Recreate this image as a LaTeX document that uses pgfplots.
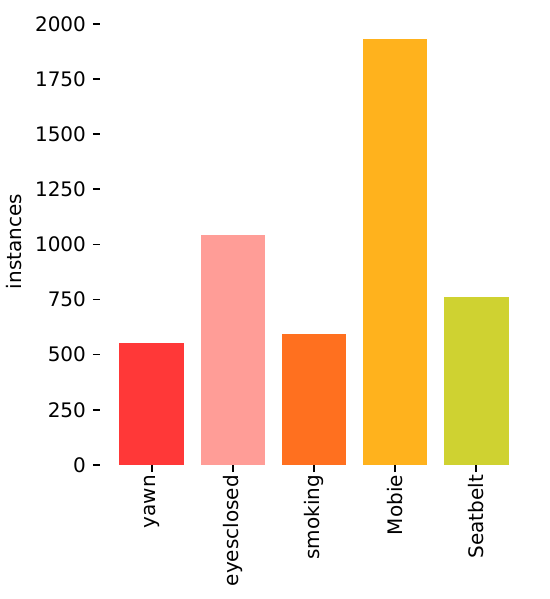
\documentclass[border=0pt]{standalone}
\usepackage{fontspec}
\setmainfont{DejaVu Sans}
\usepackage{pgfplots}
\pgfplotsset{compat=1.18}
% Ultralytics palette
\definecolor{c0}{HTML}{FF3838}
\definecolor{c1}{HTML}{FF9D97}
\definecolor{c2}{HTML}{FF701F}
\definecolor{c3}{HTML}{FFB21D}
\definecolor{c4}{HTML}{CFD231}
\begin{document}
\begin{tikzpicture}
\begin{axis}[
  width=214pt, height=223.5pt, scale only axis,
  font=\fontsize{10}{12}\selectfont,
  xmin=-0.64, xmax=4.64, ymin=0, ymax=2026,
  ybar, bar width=0.8,
  xtick={0,1,2,3,4},
  xticklabels={yawn,eyesclosed,smoking,Mobie,Seatbelt},
  x tick label style={rotate=90, anchor=east},
  xticklabel shift=-2pt,
  ytick={0,250,...,2000},
  axis line style={draw=none},
  tick align=outside, major tick length=3.5pt,
  tick style={black, line width=0.8pt},
  xtick pos=bottom, ytick pos=left,
  ylabel={instances},
  /pgf/number format/assume math mode=true,
  /pgf/number format/1000 sep={},
]
\addplot[fill=c0, draw=none, bar shift=0pt] coordinates {(0,551)};
\addplot[fill=c1, draw=none, bar shift=0pt] coordinates {(1,1042)};
\addplot[fill=c2, draw=none, bar shift=0pt] coordinates {(2,592)};
\addplot[fill=c3, draw=none, bar shift=0pt] coordinates {(3,1929)};
\addplot[fill=c4, draw=none, bar shift=0pt] coordinates {(4,760)};
\end{axis}
\pgfresetboundingbox
\path ([shift={(-50pt,-67pt)}]current axis.south west) rectangle ([shift={(11pt,9pt)}]current axis.north east);
\end{tikzpicture}
\end{document}
